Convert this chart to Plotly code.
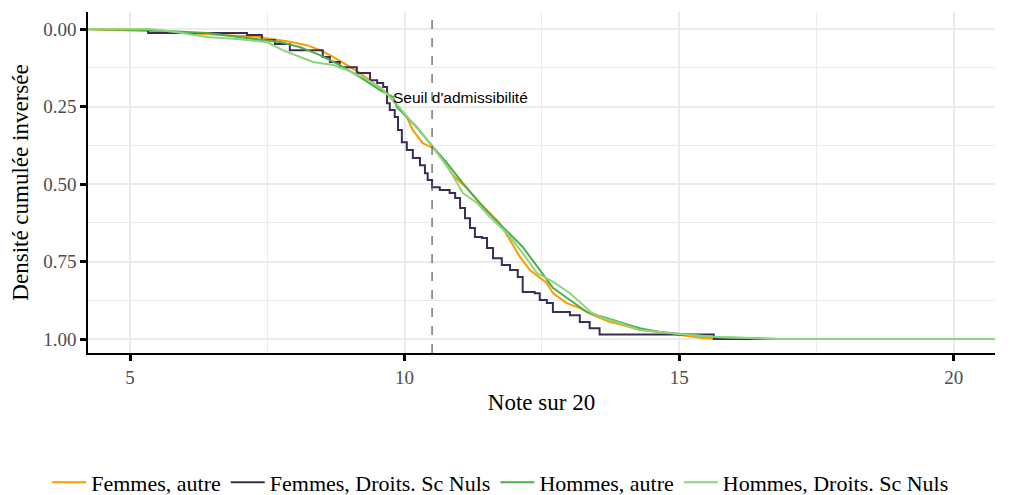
import plotly.graph_objects as go

# ---- data (note sur 20, densité cumulée) ----
femmes_autre_x = [4.0, 5.36, 7.13, 7.40, 7.45, 7.86, 8.22, 8.46, 8.70, 8.95, 9.19, 9.43, 9.68, 9.73, 10.04, 10.15,
                  10.33, 10.52, 10.70, 10.88, 11.13, 11.32, 11.50, 11.73, 11.92, 12.10, 12.28, 12.41, 12.59, 12.70,
                  12.95, 13.19, 13.43, 13.74, 13.92, 14.28, 14.65, 15.01, 15.43, 15.68, 21.0]
femmes_autre_y = [0.0, 0.006, 0.023, 0.026, 0.029, 0.039, 0.052, 0.068, 0.090, 0.116, 0.142, 0.174, 0.206, 0.219,
                  0.284, 0.326, 0.368, 0.384, 0.423, 0.471, 0.513, 0.552, 0.584, 0.626, 0.681, 0.735, 0.777, 0.794,
                  0.819, 0.852, 0.884, 0.900, 0.923, 0.945, 0.952, 0.971, 0.977, 0.987, 0.997, 1.0, 1.0]

femmes_droit_x = [4.0, 5.33, 7.13, 7.40, 7.64, 7.91, 8.51, 8.64, 8.82, 9.13, 9.37, 9.50, 9.61, 9.68, 9.73, 9.82,
                  9.88, 9.95, 10.04, 10.15, 10.28, 10.37, 10.42, 10.50, 10.64, 10.82, 10.92, 11.01, 11.10, 11.19,
                  11.28, 11.41, 11.50, 11.61, 11.77, 11.92, 12.06, 12.15, 12.37, 12.46, 12.59, 12.70, 13.01, 13.19,
                  13.37, 13.55, 15.63, 21.0]
femmes_droit_y = [0.0, 0.013, 0.019, 0.035, 0.048, 0.068, 0.090, 0.106, 0.123, 0.142, 0.165, 0.174, 0.187, 0.239,
                  0.261, 0.284, 0.326, 0.365, 0.390, 0.416, 0.439, 0.465, 0.487, 0.510, 0.519, 0.529, 0.545, 0.577,
                  0.610, 0.642, 0.671, 0.674, 0.706, 0.739, 0.761, 0.777, 0.800, 0.848, 0.852, 0.874, 0.884, 0.913,
                  0.923, 0.945, 0.965, 0.985, 1.0, 1.0]

hommes_autre_x = [4.0, 5.31, 6.40, 7.13, 7.73, 8.09, 8.46, 8.82, 9.19, 9.55, 9.79, 9.86, 10.22, 10.52, 10.77, 11.06,
                  11.43, 11.79, 12.15, 12.41, 12.70, 13.01, 13.32, 13.61, 13.92, 14.28, 14.65, 15.07, 15.68, 16.29,
                  16.78, 21.0]
hommes_autre_y = [0.0, 0.003, 0.013, 0.029, 0.042, 0.058, 0.084, 0.116, 0.155, 0.197, 0.219, 0.252, 0.316, 0.381,
                  0.432, 0.497, 0.574, 0.639, 0.703, 0.765, 0.835, 0.874, 0.913, 0.929, 0.945, 0.965, 0.977, 0.984,
                  0.994, 0.997, 1.0, 1.0]

hommes_droit_x = [4.0, 5.36, 5.86, 6.40, 6.95, 7.49, 7.78, 8.09, 8.33, 8.70, 8.95, 9.24, 9.55, 9.79, 10.15, 10.52,
                  10.82, 11.06, 11.32, 11.55, 11.86, 12.15, 12.41, 12.70, 13.01, 13.19, 13.41, 13.61, 13.86, 14.28,
                  14.83, 15.19, 15.79, 16.29, 16.78, 21.0]
hommes_droit_y = [0.0, 0.0, 0.010, 0.026, 0.032, 0.042, 0.068, 0.090, 0.106, 0.116, 0.132, 0.155, 0.187, 0.229,
                  0.303, 0.381, 0.455, 0.529, 0.561, 0.606, 0.658, 0.723, 0.787, 0.815, 0.852, 0.881, 0.916, 0.932,
                  0.945, 0.971, 0.981, 0.987, 0.994, 0.997, 1.0, 1.0]

series_names = ["Femmes, autre", "Femmes, Droits. Sc Nuls", "Hommes, autre", "Hommes, Droits. Sc Nuls"]
series_colors = ["#FF9900", "#3B2D55", "#4DAF4A", "#8CD47E"]
series_shapes = ["linear", "hv", "linear", "linear"]

x_ticks = [5, 10, 15, 20]
y_ticks = [0.0, 0.25, 0.5, 0.75, 1.0]
y_tick_labels = ["0.00", "0.25", "0.50", "0.75", "1.00"]
seuil = 10.5
annotation_text = "Seuil d'admissibilité"
annotation_pos = (11.02, 0.22)

xs = [femmes_autre_x, femmes_droit_x, hommes_autre_x, hommes_droit_x]
ys = [femmes_autre_y, femmes_droit_y, hommes_autre_y, hommes_droit_y]

fig = go.Figure()
for name, color, shape, x, y in zip(series_names, series_colors, series_shapes, xs, ys):
    fig.add_trace(go.Scatter(x=x, y=y, mode="lines", name=name,
                             line=dict(color=color, width=2, shape=shape)))

fig.add_shape(type="line", x0=seuil, x1=seuil, y0=0, y1=1, xref="x", yref="paper",
              line=dict(color="#555555", width=1.2, dash="dash"))

fig.add_annotation(x=annotation_pos[0], y=annotation_pos[1], text=annotation_text, showarrow=False,
                   font=dict(family="Liberation Sans, Arial", size=15.5, color="black"))

serif = "Liberation Serif, Times New Roman, serif"
fig.update_layout(
    width=1006, height=487,
    margin=dict(l=80, r=19, t=4, b=142),
    plot_bgcolor="white", paper_bgcolor="white",
    font=dict(family=serif, color="black"),
    xaxis=dict(range=[4.235, 20.75], tickvals=x_ticks, ticks="outside", ticklen=6, tickwidth=3,
               tickcolor="black", showline=True, linecolor="black", linewidth=1.5, automargin=False,
               showgrid=True, gridcolor="#EBEBEB", gridwidth=1.6, zeroline=False,
               minor=dict(dtick=2.5, tick0=0, showgrid=True, gridcolor="#EBEBEB", gridwidth=0.9, ticks=""),
               tickfont=dict(family=serif, size=19, color="#4D4D4D"),
               title=dict(text="Note sur 20", font=dict(family=serif, size=23, color="black"), standoff=7)),
    yaxis=dict(range=[1.045, -0.055], tickvals=y_ticks, ticktext=y_tick_labels, ticks="outside", ticklen=6,
               tickwidth=3, tickcolor="black", showline=True, linecolor="black", linewidth=1.5, automargin=False,
               showgrid=True, gridcolor="#EBEBEB", gridwidth=1.6, zeroline=False,
               minor=dict(dtick=0.125, tick0=0, showgrid=True, gridcolor="#EBEBEB", gridwidth=0.9, ticks=""),
               tickfont=dict(family=serif, size=19, color="#4D4D4D"),
               title=dict(text="Densité cumulée inversée", font=dict(family=serif, size=23, color="black"),
                          standoff=8)),
    legend=dict(orientation="h", x=0.039, xanchor="left", xref="container",
                y=0.026, yanchor="middle", yref="container", itemwidth=34,
                font=dict(family=serif, size=22, color="black"), bgcolor="rgba(0,0,0,0)"),
    showlegend=True,
)

fig.write_html("out.html")
